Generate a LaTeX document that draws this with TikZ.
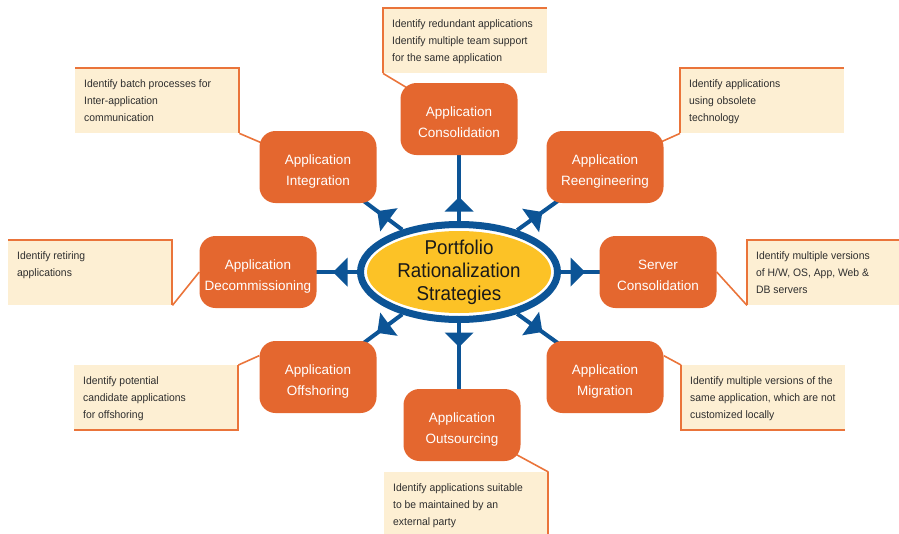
\documentclass[tikz,border=0pt]{standalone}
\usepackage{fontspec}
\setmainfont{Liberation Sans}
\newfontfamily\hubfont[FakeStretch=0.94]{Liberation Sans}
\newfontfamily\notefont[FakeStretch=0.96]{Liberation Sans}
\usetikzlibrary{shapes.geometric,backgrounds,decorations.markings}

\definecolor{appOrange}{RGB}{228,103,47}
\definecolor{noteLine}{RGB}{234,116,58}
\definecolor{noteFill}{RGB}{253,239,211}
\definecolor{hubBlue}{RGB}{12,84,150}
\definecolor{hubYellow}{RGB}{252,194,38}

\newcommand{\notetext}[1]{\begin{minipage}[c][42pt][t]{146pt}\raggedright #1\end{minipage}}

\tikzset{
  app/.style={rectangle, rounded corners=16pt, fill=appOrange, text=white,
    minimum width=117pt, minimum height=72pt, inner sep=0pt, align=center,
    text height=38pt, text depth=2pt, font=\fontsize{13.5}{21}\selectfont},
  note/.style={rectangle, fill=noteFill, anchor=north west, minimum width=163pt,
    minimum height=65pt, inner xsep=9pt, inner ysep=0pt, text=black!82,
    font=\notefont\fontsize{10.8}{17}\selectfont},
  notebar/.style={draw=noteLine, line width=2pt},
  tie/.style={draw=noteLine, line width=1.6pt},
  spoke/.style={draw=hubBlue, line width=4pt, postaction={decorate,
    decoration={markings, mark=at position #1 with
      {\fill[hubBlue] (0pt,0pt) -- (-14.5pt,14.5pt) -- (-14.5pt,-14.5pt) -- cycle;}}}},
  spoke/.default=24pt
}

\begin{document}
\begin{tikzpicture}[x=1pt,y=-1pt]
    \useasboundingbox (0,0) rectangle (899,533);

    % hub
    \node[ellipse, draw=hubBlue, line width=7pt, fill=white, minimum width=197pt,
      minimum height=95pt] (hub) at (459,272) {};
    \node[ellipse, fill=hubYellow, minimum width=184pt, minimum height=82pt,
      inner sep=-6pt, align=center, text=black!90, text height=58pt, text depth=2pt,
      font=\hubfont\fontsize{20}{23}\selectfont] (core) at (hub.center)
      {Portfolio\\Rationalization\\Strategies};

    % strategies
    \node[app] (cons) at (459,119) {Application\\Consolidation};
    \node[app] (integ) at (318,167) {Application\\Integration};
    \node[app] (reeng) at (605,167) {Application\\Reengineering};
    \node[app] (decomm) at (258,272) {Application\\Decommissioning};
    \node[app] (server) at (658,272) {Server\\Consolidation};
    \node[app] (offsh) at (318,377) {Application\\Offshoring};
    \node[app] (migr) at (605,377) {Application\\Migration};
    \node[app] (outs) at (462,425) {Application\\Outsourcing};

    % notes
    \node[note] (consnote) at (383,8) {\notetext{Identify redundant applications\\Identify multiple team support\\for the same application}};
    \node[note] (reengnote) at (680,68) {\notetext{Identify applications\\using obsolete\\technology}};
    \node[note] (integnote) at (75,68) {\notetext{Identify batch processes for\\Inter-application\\communication}};
    \node[note] (decommnote) at (8,240) {\notetext{Identify retiring\\applications}};
    \node[note] (servernote) at (747,240) {\notetext{Identify multiple versions\\of H/W, OS, App, Web \&\\DB servers}};
    \node[note] (migrnote) at (681,365) {\notetext{Identify multiple versions of the\\same application, which are not\\customized locally}};
    \node[note] (offshnote) at (74,365) {\notetext{Identify potential\\candidate applications\\for offshoring}};
    \node[note] (outsnote) at (384,472) {\notetext{Identify applications suitable\\to be maintained by an\\external party}};

    \begin{scope}[on background layer]
    \draw[spoke] (hub) -- (cons.center);
    \draw[spoke] (hub) -- (hub |- outs.north);
    \draw[spoke] (hub) -- (decomm.center);
    \draw[spoke] (hub) -- (server.center);
    \draw[spoke=31pt] (hub) -- (integ.center);
    \draw[spoke=31pt] (hub) -- (reeng.center);
    \draw[spoke=31pt] (hub) -- (offsh.center);
    \draw[spoke=31pt] (hub) -- (migr.center);

    \draw[tie] (consnote.south west) -- (cons.center);
    \draw[tie] (reengnote.south west) -- (reeng.center);
    \draw[tie] (integnote.south east) -- (integ.center);
    \draw[tie] (decommnote.south east) -- (decomm.west);
    \draw[tie] (servernote.south west) -- (server.east);
    \draw[tie] (migrnote.north west) -- (migr.20);
    \draw[tie] (offshnote.north east) -- (offsh.160);
    \draw[tie] (outsnote.north east) -- (outs.center);
    \end{scope}

    \draw[notebar] (consnote.south west) -- (consnote.north west) -- (consnote.north east);
    \draw[notebar] (reengnote.south west) -- (reengnote.north west) -- (reengnote.north east);
    \draw[notebar] (integnote.north west) -- (integnote.north east) -- (integnote.south east);
    \draw[notebar] (decommnote.north west) -- (decommnote.north east) -- (decommnote.south east);
    \draw[notebar] (servernote.south west) -- (servernote.north west) -- (servernote.north east);
    \draw[notebar] (migrnote.north west) -- (migrnote.south west) -- (migrnote.south east);
    \draw[notebar] (offshnote.north east) -- (offshnote.south east) -- (offshnote.south west);
    \draw[notebar] (outsnote.north east) -- (outsnote.south east);

\end{tikzpicture}
\end{document}
